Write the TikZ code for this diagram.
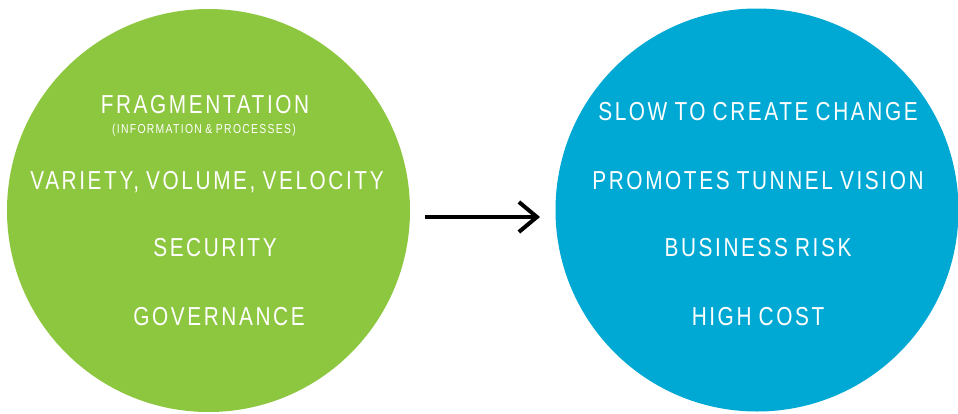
\documentclass[tikz,border=0pt]{standalone}
\usepackage{fontspec}
\setmainfont[FakeStretch=0.8,LetterSpace=10,WordSpace=0.85]{Liberation Sans}
\usetikzlibrary{arrows.meta}
\definecolor{lgreen}{HTML}{8DC63F}
\definecolor{lblue}{HTML}{00A9D4}
\begin{document}
\begin{tikzpicture}[x=1pt,y=-1pt,
  big/.style={text=white,font=\fontsize{26}{26}\selectfont,inner sep=0pt,anchor=center},
  small/.style={text=white,font=\fontsize{13}{13}\selectfont,inner sep=0pt,anchor=center},
  conn/.style={line width=4pt,-{Straight Barb[length=18pt,width=30pt,line width=4pt]}}]
\useasboundingbox (0,0) rectangle (958,413);
\fill[lgreen] (208.5,210.5) circle (201.5);
\fill[lblue] (757,210) circle (201.5);
\node[big] (l1) at (205,105) {FRAGMENTATION};
\node[small] (l1s) at (204,130) {(INFORMATION \& PROCESSES)};
\node[big] (l2) at (207,182) {VARIETY, VOLUME, VELOCITY};
\node[big] (l3) at (215,248) {SECURITY};
\node[big] (l4) at (219,317) {GOVERNANCE};
\node[big] (r1) at (758,112) {SLOW TO CREATE CHANGE};
\node[big] (r2) at (758,181) {PROMOTES TUNNEL VISION};
\node[big] (r3) at (758,248) {BUSINESS RISK};
\node[big] (r4) at (758,317) {HIGH COST};
\coordinate (a1) at (425,217);
\coordinate (a2) at (540,217);
\draw[conn] (a1) -- (a2);
\end{tikzpicture}
\end{document}
